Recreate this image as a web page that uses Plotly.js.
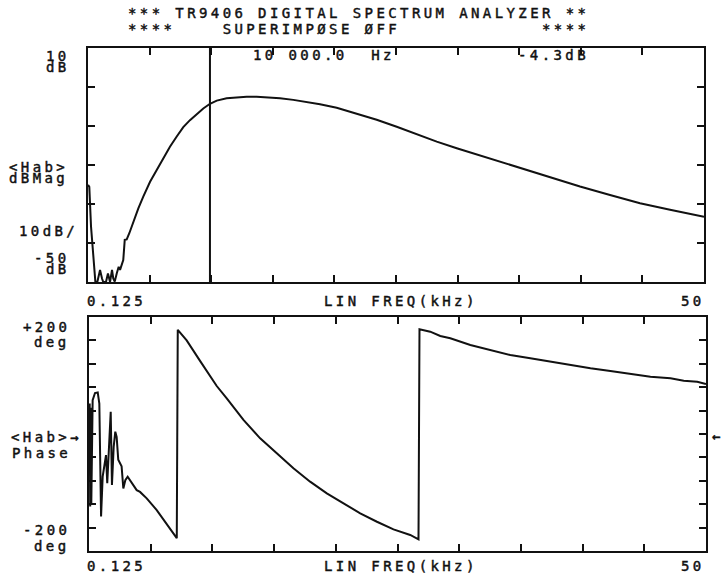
<!DOCTYPE html>
<html>
<head>
<meta charset="utf-8">
<script src="https://cdn.plot.ly/plotly-3.0.1.min.js"></script>
<style>
  html, body { margin: 0; padding: 0; background: #fff; }
  #chart { width: 723px; height: 581px; }
  svg text { letter-spacing: 3.4px; stroke: #111; stroke-width: 0.45px; }
</style>
</head>
<body>
<div id="chart"></div>
<script>
// ---- Magnitude trace (kHz, dB) ----
const magFreq = [0.125,0.23,0.37,0.51,0.61,0.72,0.88,1.10,1.26,1.36,1.58,1.74,1.91,2.07,2.17,2.29,2.45,2.61,2.72,2.82,2.98,3.10,3.26,3.47,3.79,4.20,4.60,5.15,5.69,6.22,6.76,7.31,7.84,8.38,8.93,9.46,10.0,10.55,11.35,12.17,12.97,13.78,14.6,15.67,16.75,17.8,18.91,20.26,21.88,23.5,25.12,26.74,28.36,29.98,31.6,33.22,35.1,37.53,39.96,42.39,44.82,47.25,50.0];
const magDb   = [-25.1,-25.6,-35.8,-42.6,-46.9,-49.9,-50,-46.9,-49.1,-50,-50,-47.8,-50,-46.9,-49.1,-49.9,-47.8,-46.1,-46.9,-46.1,-44.4,-39.2,-39.1,-37.5,-34.5,-31.1,-28.1,-24.3,-21.3,-18.3,-15.3,-12.7,-10.3,-8.5,-6.9,-5.5,-4.3,-3.5,-2.9,-2.6,-2.5,-2.5,-2.6,-2.9,-3.3,-3.8,-4.4,-5.3,-6.8,-8.4,-10.2,-12.2,-14.0,-15.7,-17.3,-18.9,-20.8,-23.1,-25.5,-27.7,-29.8,-31.5,-33.3];

// ---- Phase trace (kHz, deg) ----
const phaseFreq = [0.13,0.18,0.22,0.27,0.31,0.36,0.42,0.61,0.83,0.96,1.10,1.23,1.36,1.50,1.60,1.72,1.88,1.98,2.12,2.25,2.36,2.49,2.63,2.76,2.90,3.06,3.25,3.44,3.71,3.98,4.25,4.79,5.60,6.41,7.22,7.30,8.02,9.10,9.91,10.45,11.26,11.79,12.61,13.96,15.31,16.65,18.0,19.35,20.7,22.05,23.4,24.74,26.09,26.76,26.84,27.71,28.52,29.33,30.95,32.57,34.18,35.8,37.42,39.04,40.66,42.27,43.89,45.51,47.13,48.2,49.29,50.0];
const phaseDeg  = [-5,52,-124,45,-120,41,58,70,71,52,-141,-73,-50,-36,-84,-22,38,-87,-22,4,-5,-44,-50,-55,-93,-79,-73,-79,-87,-96,-99,-110,-130,-153,-178,178,160,125,99,82,61,47,24,-7.4,-33,-58.6,-81.5,-101.4,-118.5,-135.6,-150,-163,-172.6,-180,179,174.9,167.5,163.6,152.1,143.6,135,129.4,123.6,118,112.3,107.7,102.6,98,95.2,91.1,89.4,85.5];

// ---- Marker / axes ----
const markerFreq = 10.0;
const markerTopDb = 11.4;
const freqRange = [0.125, 50];
const magRange = [-50, 10];
const phaseRange = [-200, 200];

const W = 723, H = 581;
const FONT = {family: 'DejaVu Sans Mono', size: 14, color: '#111'};
function txt(t, x, y, anchor) {
  return {text: t, xref: 'paper', yref: 'paper', x: x / W, y: 1 - y / H,
          xanchor: anchor || 'left', yanchor: 'middle', showarrow: false,
          borderpad: 0, font: FONT};
}

const axisCommon = {
  showgrid: false, zeroline: false, showticklabels: false,
  ticks: 'inside', ticklen: 7, tickwidth: 2, tickcolor: '#111',
  showline: true, linewidth: 2, linecolor: '#111', mirror: 'ticks'
};

const data = [
  {x: magFreq, y: magDb, type: 'scatter', mode: 'lines', xaxis: 'x', yaxis: 'y',
   line: {color: '#111', width: 2}, hoverinfo: 'skip'},
  {x: [markerFreq], y: [markerTopDb], type: 'scatter', mode: 'markers', xaxis: 'x', yaxis: 'y',
   cliponaxis: false, marker: {symbol: 'triangle-down-open', size: 9, color: '#111', line: {width: 1.5, color: '#111'}}},
  {x: phaseFreq, y: phaseDeg, type: 'scatter', mode: 'lines', xaxis: 'x2', yaxis: 'y2',
   line: {color: '#111', width: 2}, hoverinfo: 'skip'}
];

const layout = {
  width: W, height: H,
  margin: {l: 0, r: 0, t: 0, b: 0},
  paper_bgcolor: '#fff', plot_bgcolor: '#fff',
  showlegend: false,
  xaxis: Object.assign({}, axisCommon, {domain: [88 / W, 704 / W], range: freqRange,
          tickmode: 'linear', tick0: 0.125, dtick: 4.9875, anchor: 'y'}),
  yaxis: Object.assign({}, axisCommon, {domain: [(H - 282) / H, (H - 48) / H], range: magRange,
          tickmode: 'linear', tick0: 10, dtick: 10, anchor: 'x'}),
  xaxis2: Object.assign({}, axisCommon, {domain: [89 / W, 706 / W], range: freqRange,
          tickmode: 'linear', tick0: 0.125, dtick: 4.9875, anchor: 'y2'}),
  yaxis2: Object.assign({}, axisCommon, {domain: [(H - 551) / H, (H - 317) / H], range: phaseRange,
          tickmode: 'linear', tick0: -200, dtick: 40, anchor: 'x2'}),
  shapes: [
    {type: 'line', xref: 'x', yref: 'y', x0: markerFreq, x1: markerFreq, y0: magRange[0], y1: magRange[1],
     line: {color: '#111', width: 2}}
  ],
  annotations: [
    txt('*** TR9406 DIGITAL SPECTRUM ANALYZER **', 127, 13),
    txt('****    SUPERIMPØSE ØFF            ****', 127, 29),
    txt('10 000.0  Hz', 252, 55),
    txt('-4.3dB', 517, 55),
    txt('10', 71, 56, 'right'),
    txt('dB', 71, 67, 'right'),
    txt('&lt;Hab&gt;', 8, 167),
    txt('dBMag', 8, 178),
    txt('10dB/', 18, 231),
    txt('-50', 71, 258, 'right'),
    txt('dB', 71, 269, 'right'),
    txt('0.125', 86, 301),
    txt('LIN FREQ(kHz)', 323, 301),
    txt('50', 706, 301, 'right'),
    txt('+200', 71, 327, 'right'),
    txt('deg', 71, 342, 'right'),
    txt('&lt;Hab&gt;→', 10, 437),
    txt('Phase', 11, 453),
    txt('-200', 71, 530, 'right'),
    txt('deg', 71, 546, 'right'),
    txt('0.125', 86, 566),
    txt('LIN FREQ(kHz)', 323, 566),
    txt('50', 706, 566, 'right'),
    txt('←', 711, 436)
  ]
};

Plotly.newPlot('chart', data, layout, {staticPlot: true, displayModeBar: false});
</script>
</body>
</html>
